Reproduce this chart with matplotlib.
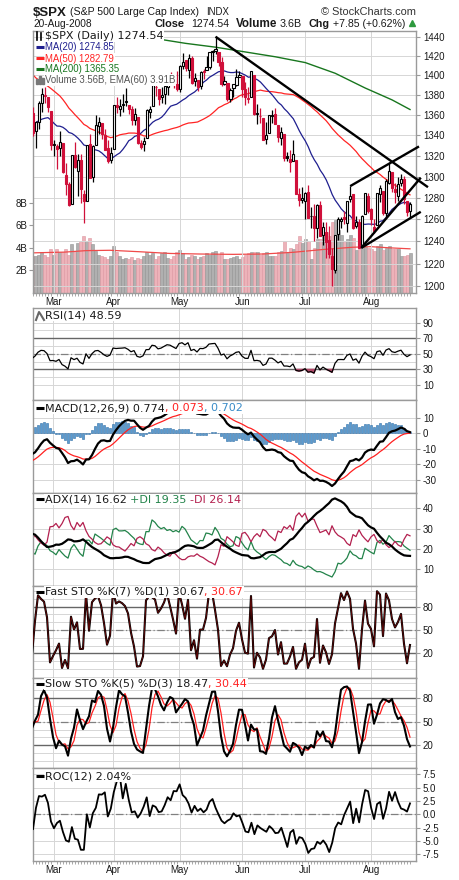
import numpy as np
import pandas as pd
import matplotlib
matplotlib.use("Agg")
import matplotlib.pyplot as plt
from matplotlib.lines import Line2D
from matplotlib.patches import Rectangle
from matplotlib.ticker import NullLocator

plt.rcParams["font.family"] = ["Liberation Sans", "DejaVu Sans"]

# ------------------------------------------------------------------ data
# Trading days (Dec-2007 .. 20-Feb-2008 are history needed by the averages / indicators)
days_2007_12 = [3, 4, 5, 6, 7, 10, 11, 12, 13, 14, 17, 18, 19, 20, 21, 24, 26, 27, 28, 31]
days_2008_01 = [2, 3, 4, 7, 8, 9, 10, 11, 14, 15, 16, 17, 18, 22, 23, 24, 25, 28, 29, 30, 31]
days_2008_02 = [1, 4, 5, 6, 7, 8, 11, 12, 13, 14, 15, 19, 20, 21, 22, 25, 26, 27, 28, 29]
days_2008_03 = [3, 4, 5, 6, 7, 10, 11, 12, 13, 14, 17, 18, 19, 20, 24, 25, 26, 27, 28, 31]
days_2008_04 = [1, 2, 3, 4, 7, 8, 9, 10, 11, 14, 15, 16, 17, 18, 21, 22, 23, 24, 25, 28, 29, 30]
days_2008_05 = [1, 2, 5, 6, 7, 8, 9, 12, 13, 14, 15, 16, 19, 20, 21, 22, 23, 27, 28, 29, 30]
days_2008_06 = [2, 3, 4, 5, 6, 9, 10, 11, 12, 13, 16, 17, 18, 19, 20, 23, 24, 25, 26, 27, 30]
days_2008_07 = [1, 2, 3, 7, 8, 9, 10, 11, 14, 15, 16, 17, 18, 21, 22, 23, 24, 25, 28, 29, 30, 31]
days_2008_08 = [1, 4, 5, 6, 7, 8, 11, 12, 13, 14, 15, 18, 19, 20]
first_drawn = "2008-02-21"   # sits on the left frame edge
origin_day = "2008-02-22"    # position 0 of the x axis

opens = [
    1479.63, 1471.34, 1465.22, 1484.59, 1508.60, 1505.11, 1516.68, 1487.58, 1483.27, 1486.19,
    1465.05, 1445.92, 1454.70, 1456.42, 1463.19, 1484.55, 1495.12, 1495.05, 1479.83, 1475.25,
    1467.97, 1447.55, 1444.01, 1414.07, 1415.71, 1390.25, 1406.78, 1419.91, 1404.11, 1411.88,
    1377.41, 1374.79, 1333.90, 1312.94, 1310.41, 1340.13, 1357.32, 1330.70, 1355.94, 1362.22, 1351.98,
    1378.60, 1395.38, 1380.28, 1339.48, 1324.01, 1336.88, 1331.92, 1340.55, 1353.12, 1367.33,
    1347.52, 1355.86, 1348.39, 1362.21, 1344.22, 1352.75, 1371.76, 1378.95, 1378.16, 1364.07,
    1330.45, 1329.58, 1327.69, 1332.20, 1301.53, 1293.16, 1274.40, 1321.13, 1305.26, 1316.05,
    1283.21, 1277.16, 1330.97, 1299.67, 1330.29, 1349.07, 1352.45, 1340.34, 1327.02, 1315.92,
    1326.41, 1369.96, 1365.69, 1369.85, 1373.69, 1370.16, 1365.50, 1355.37, 1357.98, 1332.20,
    1331.72, 1337.02, 1363.37, 1369.00, 1387.72, 1386.43, 1378.40, 1380.52, 1387.88, 1397.96, 1395.61, 1391.22,
    1385.97, 1409.16, 1415.34, 1405.60, 1417.49, 1394.29, 1394.90, 1389.40, 1404.40, 1405.65,
    1408.36, 1423.89, 1425.28, 1424.49, 1414.06, 1390.83, 1392.20, 1375.97, 1386.54, 1390.50, 1398.36,
    1399.62, 1386.42, 1376.26, 1377.48, 1400.06, 1360.83, 1358.98, 1357.09, 1335.78, 1341.81,
    1358.85, 1360.71, 1349.59, 1336.89, 1341.02, 1319.77, 1317.23, 1314.54, 1316.29, 1283.60, 1278.06,
    1276.69, 1285.82, 1262.96, 1262.90, 1251.84, 1273.38, 1245.25, 1248.66, 1241.61, 1226.83,
    1214.65, 1246.31, 1258.22, 1261.82, 1257.08, 1278.87, 1283.22, 1253.51, 1257.76, 1236.38, 1264.52, 1281.37,
    1269.42, 1253.27, 1254.87, 1283.99, 1286.51, 1266.29, 1294.42, 1304.79, 1288.64, 1282.11,
    1293.85, 1298.14, 1276.65, 1267.34]
highs = [
    1481.16, 1471.34, 1486.09, 1508.02, 1510.63, 1518.27, 1523.57, 1511.96, 1489.40, 1486.67,
    1465.05, 1460.16, 1464.42, 1461.53, 1485.40, 1497.63, 1498.85, 1495.05, 1488.01, 1475.83,
    1471.77, 1456.80, 1444.01, 1423.87, 1430.28, 1409.19, 1429.09, 1419.91, 1417.89, 1411.88,
    1391.99, 1377.72, 1350.28, 1322.09, 1339.09, 1355.15, 1368.56, 1353.97, 1364.93, 1385.86, 1385.62,
    1396.02, 1395.38, 1380.28, 1351.96, 1347.16, 1341.22, 1341.40, 1362.10, 1369.23, 1368.16,
    1350.00, 1367.28, 1363.71, 1367.94, 1354.30, 1374.36, 1387.34, 1388.34, 1378.16, 1364.07,
    1335.13, 1331.03, 1344.19, 1332.20, 1313.24, 1295.01, 1320.65, 1333.26, 1321.68, 1321.47,
    1287.50, 1330.74, 1341.51, 1330.67, 1359.68, 1357.47, 1352.45, 1345.62, 1334.87, 1328.52,
    1370.18, 1377.95, 1375.66, 1380.91, 1386.74, 1370.16, 1368.39, 1367.24, 1357.98, 1335.64,
    1337.72, 1365.49, 1368.60, 1395.90, 1390.23, 1386.43, 1387.87, 1397.72, 1399.11, 1402.90, 1397.00, 1404.57,
    1410.07, 1422.72, 1415.34, 1421.57, 1419.54, 1402.35, 1394.90, 1404.06, 1406.30, 1420.19,
    1424.40, 1425.82, 1440.24, 1424.49, 1419.12, 1399.07, 1392.20, 1387.40, 1391.25, 1406.32, 1404.46,
    1399.62, 1393.12, 1388.18, 1404.05, 1400.06, 1370.63, 1366.84, 1357.09, 1353.03, 1360.03,
    1364.70, 1366.59, 1349.59, 1347.66, 1341.02, 1323.78, 1326.02, 1335.63, 1316.29, 1289.45, 1290.31,
    1285.31, 1292.17, 1271.48, 1273.95, 1274.17, 1277.36, 1257.65, 1257.27, 1253.50, 1234.35,
    1245.52, 1262.31, 1262.23, 1267.74, 1277.42, 1291.17, 1283.22, 1263.23, 1260.09, 1264.44, 1284.33, 1284.93,
    1270.52, 1260.49, 1284.88, 1291.67, 1286.51, 1297.85, 1313.15, 1304.79, 1294.03, 1300.11,
    1302.05, 1300.22, 1276.65, 1276.01]
lows = [
    1470.08, 1460.66, 1465.22, 1482.19, 1502.66, 1504.96, 1475.99, 1468.23, 1469.21, 1467.78,
    1445.43, 1435.65, 1445.31, 1447.22, 1463.19, 1484.55, 1488.20, 1475.86, 1471.70, 1465.13,
    1442.07, 1443.73, 1411.19, 1403.45, 1388.30, 1378.70, 1395.31, 1394.83, 1402.91, 1380.60,
    1364.27, 1330.67, 1312.51, 1274.29, 1270.05, 1334.31, 1327.50, 1322.26, 1350.19, 1352.95, 1334.08,
    1375.93, 1379.69, 1336.64, 1324.34, 1316.75, 1321.06, 1320.32, 1339.36, 1350.78, 1347.31,
    1338.13, 1345.05, 1336.55, 1339.34, 1327.04, 1346.03, 1363.29, 1372.00, 1363.16, 1325.42,
    1320.04, 1307.39, 1320.22, 1303.42, 1282.43, 1272.66, 1274.40, 1307.86, 1282.11, 1274.86,
    1256.98, 1277.16, 1298.42, 1295.22, 1330.29, 1341.21, 1336.41, 1325.66, 1312.95, 1312.81,
    1326.41, 1361.55, 1358.68, 1362.83, 1369.02, 1360.62, 1349.97, 1350.11, 1331.21, 1326.16,
    1324.35, 1337.02, 1357.25, 1369.00, 1379.25, 1369.84, 1372.24, 1371.09, 1379.98, 1394.40, 1386.70, 1384.25,
    1383.07, 1406.25, 1404.37, 1397.10, 1391.16, 1389.39, 1384.11, 1386.20, 1396.26, 1405.65,
    1406.87, 1414.35, 1421.63, 1409.09, 1388.81, 1390.23, 1373.72, 1373.07, 1378.16, 1388.59, 1398.08,
    1377.79, 1370.12, 1371.74, 1377.48, 1359.90, 1350.62, 1351.56, 1335.47, 1331.29, 1341.71,
    1352.07, 1350.54, 1333.40, 1330.39, 1314.46, 1315.31, 1304.42, 1314.54, 1283.15, 1272.00, 1274.86,
    1260.68, 1261.51, 1252.01, 1240.68, 1242.84, 1244.57, 1236.76, 1225.35, 1225.01, 1200.44,
    1211.39, 1241.49, 1251.81, 1255.70, 1248.83, 1276.06, 1251.48, 1251.75, 1234.37, 1236.38, 1264.52, 1265.97,
    1254.54, 1247.45, 1254.67, 1276.00, 1264.29, 1262.11, 1292.75, 1285.64, 1274.86, 1276.84,
    1290.74, 1274.51, 1263.11, 1261.16]
closes = [
    1472.42, 1462.79, 1485.01, 1507.34, 1504.66, 1515.96, 1477.65, 1486.59, 1488.41, 1467.95,
    1445.90, 1454.98, 1453.00, 1460.12, 1484.46, 1496.45, 1497.66, 1476.27, 1478.49, 1468.36,
    1447.16, 1447.16, 1411.63, 1416.18, 1390.19, 1409.13, 1420.33, 1401.02, 1416.25, 1380.95,
    1373.20, 1333.25, 1325.19, 1310.50, 1338.60, 1352.07, 1330.61, 1353.96, 1362.30, 1355.81, 1378.55,
    1395.42, 1380.82, 1336.64, 1326.45, 1336.91, 1331.29, 1339.13, 1348.86, 1367.21, 1348.86,
    1349.99, 1348.78, 1360.03, 1342.53, 1353.11, 1371.80, 1381.29, 1380.02, 1367.68, 1330.63,
    1331.34, 1326.75, 1333.70, 1304.34, 1293.37, 1273.37, 1320.65, 1308.77, 1315.48, 1288.14,
    1276.60, 1330.74, 1298.42, 1329.51, 1349.88, 1352.99, 1341.13, 1325.76, 1315.22, 1322.70,
    1370.18, 1367.53, 1369.31, 1370.40, 1372.54, 1365.54, 1354.49, 1360.55, 1332.83, 1328.32,
    1334.43, 1364.71, 1365.56, 1390.33, 1388.17, 1375.94, 1379.93, 1388.82, 1397.84, 1396.37, 1390.94, 1385.59,
    1409.34, 1413.90, 1407.49, 1418.26, 1392.57, 1397.68, 1388.28, 1403.58, 1403.04, 1408.66,
    1423.57, 1425.35, 1426.63, 1413.40, 1390.71, 1394.35, 1375.93, 1385.35, 1390.84, 1398.26, 1400.38,
    1385.67, 1377.65, 1377.20, 1404.05, 1360.68, 1361.76, 1358.44, 1335.49, 1339.87, 1360.03,
    1360.14, 1350.93, 1337.81, 1342.83, 1317.93, 1318.00, 1314.29, 1321.97, 1283.15, 1278.38, 1280.00,
    1284.91, 1261.52, 1262.90, 1252.31, 1273.70, 1244.69, 1253.39, 1239.49, 1228.30, 1214.91,
    1245.36, 1260.32, 1260.68, 1260.00, 1277.00, 1282.19, 1252.54, 1257.76, 1234.37, 1263.20, 1284.26, 1267.38,
    1260.31, 1249.01, 1284.88, 1289.19, 1266.07, 1296.32, 1305.32, 1289.59, 1285.83, 1292.93,
    1298.20, 1278.60, 1266.69, 1274.54]

# volume (billions) for the drawn days, 21-Feb .. 20-Aug
volume_b = [
    3.3, 3.3, 3.4, 3.6, 3.4, 3.2, 3.9,
    3.4, 3.9, 3.6, 3.6, 3.9, 3.4, 4.3, 3.6, 4.4, 4.6, 5.0, 4.6, 4.9, 4.3, 3.7, 3.4, 3.3, 3.2, 3.0, 3.3,
    4.2, 3.6, 3.3, 3.0, 3.1, 3.0, 3.2, 2.9, 3.1, 3.0, 3.3, 3.6, 3.4, 3.5, 3.0, 3.3, 3.5, 3.6, 3.1, 3.0, 3.3, 3.6,
    3.8, 3.5, 3.0, 3.2, 3.4, 3.3, 3.0, 3.2, 3.3, 3.5, 3.4, 3.6, 3.7, 3.4, 3.6, 3.0, 3.0, 3.1, 3.2, 3.3, 3.0,
    3.2, 3.4, 3.5, 3.6, 3.6, 3.6, 3.4, 3.5, 3.6, 3.3, 3.3, 3.3, 3.6, 3.7, 4.6, 3.5, 4.0, 3.9, 4.3, 5.0, 4.4,
    4.8, 4.6, 3.0, 4.0, 4.8, 4.8, 5.1, 5.4, 5.0, 6.3, 6.5, 5.6, 5.1, 4.5, 4.8, 5.1, 4.9, 3.8, 3.9, 4.2, 4.1, 4.0,
    3.9, 3.7, 4.2, 4.3, 3.8, 4.0, 4.2, 3.9, 3.9, 3.9, 3.3, 3.3, 3.4, 3.56]

# EMA(60) of volume (billions)
vol_ema_dates = ["2008-02-21", "2008-03-07", "2008-03-18", "2008-03-31", "2008-04-14", "2008-04-28",
                 "2008-05-12", "2008-05-28", "2008-06-11", "2008-06-25", "2008-07-10", "2008-07-24",
                 "2008-08-01", "2008-08-11", "2008-08-20"]
vol_ema_b = [3.55, 3.62, 3.75, 3.78, 3.65, 3.5, 3.45, 3.42, 3.45, 3.6, 3.85, 4.05, 4.1, 4.0, 3.91]

# MA(200) (it runs above the frame before late April)
ma200_dates = ["2008-03-20", "2008-04-08", "2008-04-23", "2008-05-05", "2008-05-19", "2008-06-03",
               "2008-06-17", "2008-07-01", "2008-07-16", "2008-07-30", "2008-08-12", "2008-08-20"]
ma200_vals = [1450.0, 1445.0, 1437.0, 1433.0, 1429.0, 1424.0, 1419.0, 1413.0, 1402.0, 1387.0, 1375.0, 1365.35]

# hand-drawn trend lines: (trading-day position, price) at both ends, positions counted from 22-Feb
trend_x0 = [60.0, 105.0, 108.7, 108.7]
trend_p0 = [1440.0, 1291.0, 1234.0, 1234.0]
trend_x1 = [131.0, 128.0, 128.6, 128.6]
trend_p1 = [1290.0, 1329.0, 1299.0, 1267.0]

month_names = ["Mar", "Apr", "May", "Jun", "Jul", "Aug"]

# ------------------------------------------------------------------ indicators
month_days = [("2007-12", days_2007_12), ("2008-01", days_2008_01), ("2008-02", days_2008_02),
              ("2008-03", days_2008_03), ("2008-04", days_2008_04), ("2008-05", days_2008_05),
              ("2008-06", days_2008_06), ("2008-07", days_2008_07), ("2008-08", days_2008_08)]
dates = [f"{m}-{d:02d}" for m, ds in month_days for d in ds]
O = np.array(opens); Hh = np.array(highs); L = np.array(lows); C = np.array(closes)
n = len(C)
s = dates.index(first_drawn)
o0 = dates.index(origin_day)
N = n - s
xs = np.arange(s, n) - o0


def pos(d):
    return dates.index(d) - o0


def sma(a, p):
    return pd.Series(a).rolling(p).mean().to_numpy()


def ema(a, p):
    a = np.asarray(a, float)
    out = np.full(len(a), np.nan)
    st = np.where(~np.isnan(a))[0][0]
    out[st + p - 1] = a[st:st + p].mean()
    k = 2.0 / (p + 1)
    for i in range(st + p, len(a)):
        out[i] = out[i - 1] + k * (a[i] - out[i - 1])
    return out


def rsi(c, p=14):
    d = np.diff(c)
    g = np.where(d > 0, d, 0.0); l = np.where(d < 0, -d, 0.0)
    out = np.full(len(c), np.nan)
    ag, al = g[:p].mean(), l[:p].mean()
    out[p] = 100 - 100 / (1 + ag / al)
    for i in range(p + 1, len(c)):
        ag = (ag * (p - 1) + g[i - 1]) / p
        al = (al * (p - 1) + l[i - 1]) / p
        out[i] = 100 - 100 / (1 + ag / al)
    return out


def dmi(h, l, c, p=14):
    tr = np.zeros(n); pdm = np.zeros(n); mdm = np.zeros(n)
    for i in range(1, n):
        tr[i] = max(h[i] - l[i], abs(h[i] - c[i - 1]), abs(l[i] - c[i - 1]))
        up, dn = h[i] - h[i - 1], l[i - 1] - l[i]
        pdm[i] = up if (up > dn and up > 0) else 0.0
        mdm[i] = dn if (dn > up and dn > 0) else 0.0
    pdi = np.full(n, np.nan); mdi = np.full(n, np.nan); dx = np.full(n, np.nan)
    st, sp, sm = tr[1:p + 1].sum(), pdm[1:p + 1].sum(), mdm[1:p + 1].sum()
    for i in range(p, n):
        if i > p:
            st = st - st / p + tr[i]; sp = sp - sp / p + pdm[i]; sm = sm - sm / p + mdm[i]
        pdi[i] = 100 * sp / st; mdi[i] = 100 * sm / st
        dx[i] = 100 * abs(pdi[i] - mdi[i]) / (pdi[i] + mdi[i])
    ax_ = np.full(n, np.nan)
    a = dx[p:2 * p].mean(); ax_[2 * p - 1] = a
    for i in range(2 * p, n):
        a = (a * (p - 1) + dx[i]) / p; ax_[i] = a
    return ax_, pdi, mdi


def stoch_k(p):
    out = np.full(n, np.nan)
    for i in range(p - 1, n):
        hh, ll = Hh[i - p + 1:i + 1].max(), L[i - p + 1:i + 1].min()
        out[i] = 100 * (C[i] - ll) / (hh - ll)
    return out


ma20 = sma(C, 20)[s:]
ma50 = sma(C, 50)[s:]
rsi14 = rsi(C)[s:]
macd_full = ema(C, 12) - ema(C, 26)
sig_full = ema(macd_full, 9)
macd = macd_full[s:]; sig = sig_full[s:]; hist = macd - sig
adx14, pdi14, mdi14 = [a[s:] for a in dmi(Hh, L, C)]
fast_k = stoch_k(7)[s:]
slow_k_full = sma(stoch_k(5), 3)
slow_k = slow_k_full[s:]
slow_d = sma(slow_k_full, 3)[s:]
roc = np.full(n, np.nan); roc[12:] = (C[12:] / C[:-12] - 1) * 100; roc = roc[s:]

month_x = [pos(next(d for d in dates if d[5:7] == m and d.startswith("2008"))) for m in
           ["03", "04", "05", "06", "07", "08"]]

# ------------------------------------------------------------------ figure
W, H = 460, 880
fig = plt.figure(figsize=(W / 100, H / 100), dpi=100)
fig.patch.set_facecolor("white")
XL = (-0.67, 127.0)
GRID = "#d6d6d6"
FRAME = "#9a9a9a"
RED = "#d0103a"
TXT = "#1a1a1a"
LEG = ["DejaVu Sans"]
TICKFS = 7.0


def add_ax(l, t, r, b, **kw):
    return fig.add_axes([l / W, 1 - b / H, (r - l) / W, (b - t) / H], **kw)


def style(ax, ylim, yticks, ylabels, minor=None):
    ax.set_xlim(*XL)
    ax.set_ylim(*ylim)
    ax.set_xticks(month_x)
    ax.set_xticklabels([])
    ax.set_yticks(yticks)
    ax.set_yticklabels(ylabels)
    ax.yaxis.set_minor_locator(NullLocator())
    if minor is not None:
        ax.set_yticks(minor, minor=True)
        ax.grid(True, which="minor", axis="y", color=GRID, lw=0.7)
    ax.yaxis.tick_right()
    ax.tick_params(axis="y", which="major", length=3, width=0.8, color=FRAME, labelsize=TICKFS,
                   pad=2, labelcolor=TXT)
    ax.tick_params(axis="y", which="minor", length=0)
    ax.tick_params(axis="x", which="major", length=0)
    for sp in ax.spines.values():
        sp.set_color(FRAME)
        sp.set_linewidth(1.0)
    ax.grid(True, which="major", color=GRID, lw=0.7)
    ax.set_axisbelow(True)


renderer = fig.canvas.get_renderer()


def row(x, y, parts, fs=8.0, family=LEG):
    for txt, col in parts:
        t = fig.text(x / W, 1 - y / H, txt, color=col, fontsize=fs, family=family, ha="left",
                     va="center", zorder=6, bbox=dict(fc="white", ec="none", pad=0.5))
        x = t.get_window_extent(renderer).x1
    return x


def fit(x0, x1, y, txt, weight="normal", color=TXT):
    t = fig.text(x0 / W, 1 - y / H, txt, fontsize=10, fontweight=weight, color=color,
                 va="baseline", ha="left")
    w = t.get_window_extent(renderer).width
    t.set_fontsize(10 * (x1 - x0) / w)
    return t


def icon_line(y, color, lw=2.2):
    fig.add_artist(Line2D([36 / W, 44 / W], [1 - y / H, 1 - y / H], color=color, lw=lw,
                          transform=fig.transFigure, zorder=7, solid_capstyle="butt"))


def ref_lines(a, hi, lo):
    a.axhline(hi, color="#666666", lw=1.0, zorder=1.5)
    a.axhline(lo, color="#666666", lw=1.0, zorder=1.5)
    a.axhline(50, color="#808080", lw=0.9, ls=(0, (6, 2, 1, 2)), zorder=1.5)


def bottom_axis(a):
    a.set_xticks(month_x)
    a.set_xticklabels(month_names)
    a.set_xticks(xs, minor=True)
    a.tick_params(axis="x", which="major", length=0, labelsize=TICKFS, pad=3, labelcolor=TXT)
    a.tick_params(axis="x", which="minor", length=2, width=0.6, color=FRAME)


# ---------------- main price panel (volume behind it)
axv = add_ax(33, 31, 416, 293, zorder=0)
ax = add_ax(33, 31, 416, 293, zorder=1)
ax.patch.set_alpha(0)
vol = np.array(volume_b)
up = C[s:] >= C[s - 1:-1]
axv.bar(xs, vol, width=1.0, color=np.where(up, "#b0b0b0", "#edb2b9"),
        edgecolor=np.where(up, "#939393", "#dd97a1"), lw=0.4)
axv.plot([pos(d) for d in vol_ema_dates], vol_ema_b, color="#f04a4a", lw=0.9)
axv.set_xlim(*XL)
axv.set_ylim(0, 262 / 11.3)
axv.set_yticks([2, 4, 6, 8])
axv.set_yticklabels(["2B", "4B", "6B", "8B"])
axv.set_xticks([])
axv.tick_params(axis="y", length=3, width=0.8, color=FRAME, labelsize=TICKFS, pad=1, labelcolor=TXT)
for sp in axv.spines.values():
    sp.set_visible(False)

ax.set_yscale("log")
ptick = list(range(1200, 1441, 20))
style(ax, (1194, 1446), ptick, [str(v) for v in ptick])
bottom_axis(ax)

ax.plot(xs, ma50, color="#ff2424", lw=0.9, zorder=2)
ax.plot(xs, ma20, color="#1f1f8f", lw=0.9, zorder=2)
ax.plot([pos(d) for d in ma200_dates], ma200_vals, color="#18761e", lw=1.0, zorder=2)

Cs, Os, Hs, Ls, Cp = C[s:], O[s:], Hh[s:], L[s:], C[s - 1:-1]
ccol = np.where(Cs >= Cp, "black", RED)
ax.vlines(xs, Ls, Hs, colors=ccol, lw=0.9, zorder=3)
lo = np.minimum(Os, Cs); hi = np.maximum(Os, Cs)
face = np.where(Cs < Os, ccol, "white")
ax.bar(xs, np.maximum(hi - lo, 0.4), bottom=lo, width=0.7, color=face, edgecolor=ccol, lw=0.8, zorder=4)

for x0, p0, x1, p1 in zip(trend_x0, trend_p0, trend_x1, trend_p1):
    ax.plot([x0, x1], [p0, p1], color="black", lw=1.7, zorder=5, clip_on=False, solid_capstyle="butt")

# legend of the price panel
fig.add_artist(Line2D([37 / W, 37 / W], [1 - 32 / H, 1 - 40 / H], color="black", lw=1.2,
                      transform=fig.transFigure, zorder=7))
fig.add_artist(Line2D([41 / W, 41 / W], [1 - 33 / H, 1 - 40 / H], color="black", lw=1.2,
                      transform=fig.transFigure, zorder=7))
row(45, 36, [("$SPX (Daily) 1274.54", TXT)])
MAF = ["Liberation Sans"]
icon_line(47.5, "#1f1f8f"); row(45, 47.5, [("MA(20) 1274.85", "#1f1f8f")], fs=6.9, family=MAF)
icon_line(58.5, "#ff2424"); row(45, 58.5, [("MA(50) 1282.79", "#ff2424")], fs=6.9, family=MAF)
icon_line(69.5, "#18761e"); row(45, 69.5, [("MA(200) 1365.35", "#18761e")], fs=6.9, family=MAF)
for bx, bh in zip([36, 39, 42], [5, 8, 6]):
    fig.add_artist(Rectangle((bx / W, 1 - 84 / H), 2 / W, bh / H, color="#777777",
                             transform=fig.transFigure, zorder=7))
row(45, 80, [("Volume 3.56B, EMA(60) 3.91B", "#555555")], fs=6.9, family=MAF)

# ---------------- RSI
a1 = add_ax(33, 308, 416, 400)
style(a1, (-9.3, 108.9), [10, 30, 50, 70, 90], ["10", "30", "50", "70", "90"],
      minor=[20, 40, 60, 80])
a1.axhline(70, color="#666666", lw=1.0)
a1.axhline(30, color="#666666", lw=1.0)
a1.axhline(50, color="#808080", lw=0.9, ls=(0, (6, 2, 1, 2)))
a1.fill_between(xs, rsi14, 30, where=rsi14 < 30, color="#b24a6a", interpolate=True, zorder=2)
a1.plot(xs, rsi14, color="black", lw=0.9, zorder=3)
fig.add_artist(Line2D([36 / W, 39 / W, 41 / W, 44 / W], [1 - 320 / H, 1 - 312 / H, 1 - 315 / H, 1 - 320 / H],
                      color="#666666", lw=1.5, transform=fig.transFigure, zorder=7))
row(45, 315.5, [("RSI(14) 48.59", TXT)])

# ---------------- MACD
a2 = add_ax(33, 400, 416, 493)
style(a2, (-38.3, 21.4), [-30, -20, -10, 0, 10], ["-30", "-20", "-10", "0", "10"])
a2.bar(xs, hist, width=0.85, color="#5a9bd0", edgecolor="#2f6ea6", lw=0.4, zorder=2)
a2.plot(xs, sig, color="#ff2020", lw=0.9, zorder=3)
a2.plot(xs, macd, color="black", lw=1.6, zorder=4)
icon_line(408, "black")
row(45, 408, [("MACD(12,26,9) 0.774", TXT), (", 0.073", "#ff2020"), (", 0.702", "#3a8cc8")])

# ---------------- ADX
a3 = add_ax(33, 493, 416, 586)
style(a3, (1.8, 47.5), [10, 20, 30, 40], ["10", "20", "30", "40"])
a3.plot(xs, pdi14, color="#23834a", lw=0.9, zorder=2)
a3.plot(xs, mdi14, color="#b3204f", lw=0.9, zorder=2)
a3.plot(xs, adx14, color="black", lw=1.6, zorder=3)
icon_line(499.5, "black")
row(45, 499.5, [("ADX(14) 16.62 ", TXT), ("+DI 19.35 ", "#23834a"), ("-DI 26.14", "#b3204f")])

# ---------------- Fast STO
a4 = add_ax(33, 586, 416, 678)
style(a4, (-11.8, 106.6), [20, 50, 80], ["20", "50", "80"], minor=[0, 10, 30, 40, 60, 70, 90, 100])
ref_lines(a4, 80, 20)
a4.plot(xs, fast_k, color="black", lw=1.5, zorder=3)
a4.plot(xs, fast_k, color="#b01010", lw=0.5, alpha=0.7, zorder=4)
icon_line(592, "black")
row(45, 592, [("Fast STO %K(7) %D(1) 30.67", TXT), (", 30.67", "#ff2020")])

# ---------------- Slow STO
a5 = add_ax(33, 678, 416, 768)
style(a5, (-9.0, 105.9), [20, 50, 80], ["20", "50", "80"], minor=[0, 10, 30, 40, 60, 70, 90, 100])
ref_lines(a5, 80, 20)
a5.plot(xs, slow_d, color="#ff2020", lw=0.9, zorder=3)
a5.plot(xs, slow_k, color="black", lw=1.5, zorder=4)
icon_line(684, "black")
row(45, 684, [("Slow STO %K(5) %D(3) 18.47", TXT), (", 30.44", "#ff2020")])

# ---------------- ROC
a6 = add_ax(33, 768, 416, 861)
rt = [-7.5, -5.0, -2.5, 0.0, 2.5, 5.0, 7.5]
style(a6, (-8.76, 8.68), rt, [f"{v:.1f}" for v in rt])
a6.axhline(0, color="#808080", lw=0.9, ls=(0, (6, 2, 1, 2)))
a6.plot(xs, roc, color="black", lw=1.3, zorder=3)
bottom_axis(a6)
icon_line(776, "black")
row(45, 776, [("ROC(12) 2.04%", TXT)])

# ---------------- header
fit(33, 67, 15.5, "$SPX", weight="bold")
fit(70, 200, 15, "(S&P 500 Large Cap Index)")
fit(206, 229, 15, "INDX")
fit(321, 416, 15, "© StockCharts.com", color="#333333")
fit(33, 92, 27, "20-Aug-2008")
fit(155, 185, 27, "Close", weight="bold")
fit(191, 229, 27, "1274.54")
fit(236, 277, 27, "Volume", weight="bold")
fit(280, 302, 27, "3.6B")
fit(309, 330, 27, "Chg", weight="bold")
fit(333, 405, 27, "+7.85 (+0.62%)")
fig.add_artist(Line2D([412.5 / W], [1 - 23.5 / H], marker="^", ms=5, color="#2e9a3e", lw=0,
                      transform=fig.transFigure))

fig.savefig("out.png", dpi=100, facecolor="white")
